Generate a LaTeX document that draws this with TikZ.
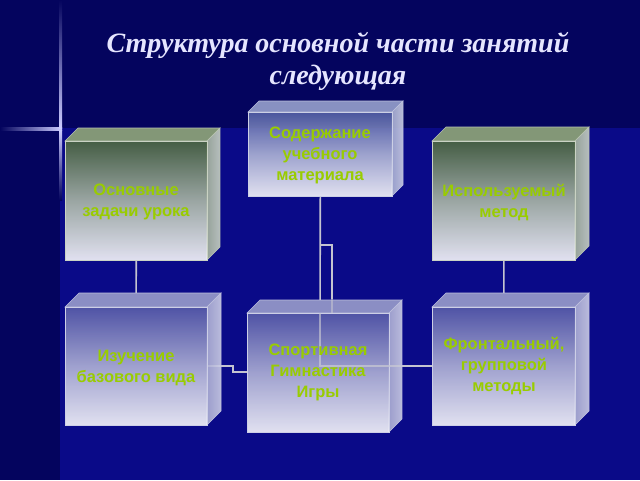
\documentclass[tikz,border=0pt]{standalone}
\usepackage{fontspec}
\setmainfont{Liberation Serif}
\setsansfont{Liberation Sans}
\begin{document}
\begin{tikzpicture}[x=1pt,y=-1pt,
  lbl/.style={font=\sffamily\bfseries\fontsize{16.5}{21}\selectfont,text=txt,align=center},
  conn/.style={draw=lin,line width=1.6pt}]
\definecolor{bg}{HTML}{0A0A88}
\definecolor{bgd}{HTML}{04045E}
\definecolor{txt}{HTML}{99CC00}
\definecolor{lin}{HTML}{C4C4D0}
\definecolor{grn}{HTML}{4E6A3C}
\definecolor{blu}{HTML}{5562A8}
\definecolor{blt}{HTML}{5A5EAA}
\useasboundingbox (0,0) rectangle (640,480);
\fill[bg] (0,0) rectangle (640,480);
\fill[bgd] (0,0) rectangle (640,128);
\fill[bgd] (0,128) rectangle (60,480);
\shade[left color=bgd,right color=white!80!blue] (0,127) rectangle (62,130);
\shade[top color=bgd,bottom color=white!80!blue] (59,0) rectangle (62,128);
\shade[top color=white!80!blue,bottom color=bgd] (59,130) rectangle (62,200);
\node[font=\bfseries\itshape\fontsize{28}{32}\selectfont,text=white!90!blue,align=center] at (338,61) {Структура основной части занятий\\следующая};
\newcommand\mycube[7]{%
  \fill[#6!70!white,draw=#6!40!white,line width=0.6pt] (#2,#3) -- ++(#7,-#7) -- (#4+#7,#3-#7) -- (#4,#3) -- cycle;
  \shade[left color=#6!50!white,right color=#6!30!white,draw=#6!40!white,line width=0.6pt,fill opacity=0.9] (#4,#3) -- (#4+#7,#3-#7) -- (#4+#7,#5-#7) -- (#4,#5) -- cycle;
  \node[draw=#6!30!white,line width=0.6pt,top color=#6,bottom color=white,middle color=#6!45!white,fill opacity=0.88,text opacity=1,
    minimum width=#4-#2,minimum height=#5-#3,inner sep=0pt,anchor=north west] (#1) at (#2,#3) {};}
\coordinate (j1) at (320,366);
\coordinate (j2) at (320,245);
\coordinate (j3) at (332,245);
\coordinate (k1) at (233,366);
\coordinate (k2) at (233,372);
\mycube{c}{248}{112}{392}{196}{blu}{11}
\mycube{a}{65}{141}{207}{260}{grn}{13}
\mycube{b}{432}{141}{575}{260}{grn}{14}
\draw[conn] (c.south) -- (j1) -- (432,366);
\draw[conn] (j2) -- (j3) -- (332,299);
\draw[conn] (a.south) -- (136,307);
\draw[conn] (b.south) -- (504,307);
\draw[conn] (207,366) -- (k1) -- (k2) -- (247,372);
\mycube{d}{65}{307}{207}{425}{blt}{14}
\mycube{e}{247}{313}{389}{432}{blt}{13}
\mycube{f}{432}{307}{575}{425}{blt}{14}
\draw[conn,draw opacity=0.6] (320,313) -- (j1) -- (432,366);
\draw[conn,draw opacity=0.6] (332,313) -- (332,299);
\node[lbl] at (320,155) {Содержание\\учебного\\материала};
\node[lbl] at (136,202) {Основные\\задачи урока};
\node[lbl] at (504,202) {Используемый\\метод};
\node[lbl] at (136,368) {Изучение\\базового вида};
\node[lbl] at (318,372) {Спортивная\\Гимнастика\\Игры};
\node[lbl] at (504,366) {Фронтальный,\\групповой\\методы};
\end{tikzpicture}
\end{document}
